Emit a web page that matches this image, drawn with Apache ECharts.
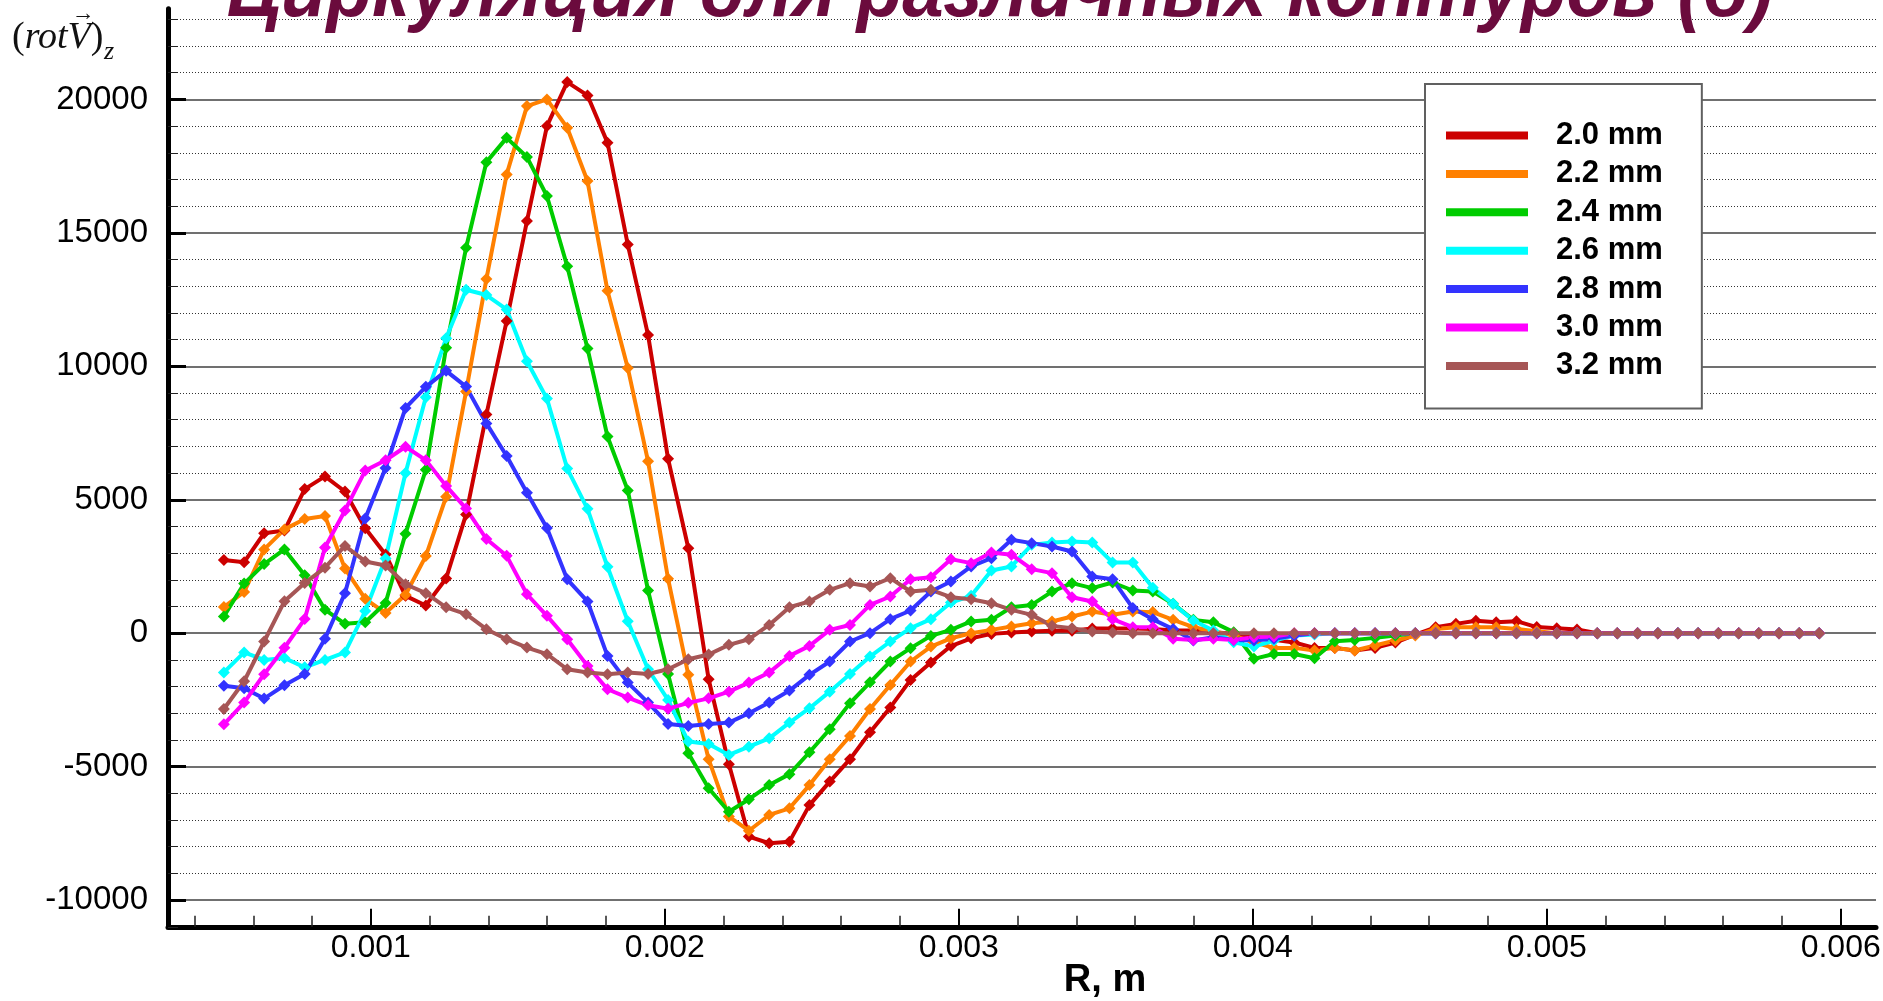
<!DOCTYPE html>
<html>
<head>
<meta charset="utf-8">
<script src="https://cdn.jsdelivr.net/npm/echarts@6/dist/echarts.min.js"></script>
<style>
  html, body { margin: 0; padding: 0; background: #ffffff; }
  #chart { width: 1883px; height: 1001px; }
</style>
</head>
<body>
<div id="chart"></div>
<script>
// Radius of the sample points along the contour, m
const R = [
  0.000500, 0.000569, 0.000637, 0.000706, 0.000775, 0.000844, 0.000912, 0.000981, 0.001050, 0.001118,
  0.001187, 0.001256, 0.001324, 0.001393, 0.001462, 0.001531, 0.001599, 0.001668, 0.001737, 0.001805,
  0.001874, 0.001943, 0.002011, 0.002080, 0.002149, 0.002218, 0.002286, 0.002355, 0.002424, 0.002492,
  0.002561, 0.002630, 0.002698, 0.002767, 0.002836, 0.002905, 0.002973, 0.003042, 0.003111, 0.003179,
  0.003248, 0.003317, 0.003385, 0.003454, 0.003523, 0.003592, 0.003660, 0.003729, 0.003798, 0.003866,
  0.003935, 0.004004, 0.004072, 0.004141, 0.004210, 0.004279, 0.004347, 0.004416, 0.004485, 0.004553,
  0.004622, 0.004691, 0.004759, 0.004828, 0.004897, 0.004966, 0.005034, 0.005103, 0.005172, 0.005240,
  0.005309, 0.005378, 0.005446, 0.005515, 0.005584, 0.005653, 0.005721, 0.005790, 0.005859, 0.005927
];

// (rot V)_z for each contour, one value per radius above
const rot20 = [
  2740, 2660, 3745, 3845, 5400, 5875, 5310, 3930, 2950, 1400,
  1040, 2050, 4450, 8190, 11700, 15440, 19000, 20650, 20150, 18380,
  14560, 11170, 6540, 3185, -1725, -4910, -7620, -7870, -7810, -6440,
  -5560, -4720, -3710, -2780, -1750, -1100, -480, -190, -25, 25,
  60, 90, 90, 180, 180, 180, 160, 100, 100, 40,
  -20, -150, -250, -350, -550, -550, -650, -550, -350, -50,
  220, 350, 470, 410, 450, 230, 190, 140, 0, 0,
  0, 0, 0, 0, 0, 0, 0, 0, 0, 0
];
const rot22 = [
  980, 1545, 3140, 3890, 4280, 4390, 2420, 1290, 755, 1440,
  2890, 5110, 9060, 13270, 17190, 19750, 20000, 18940, 16940, 12830,
  9940, 6440, 2040, -1560, -4720, -6870, -7400, -6810, -6560, -5690,
  -4720, -3850, -2840, -1940, -1060, -500, -190, 0, 125, 250,
  375, 440, 625, 810, 690, 810, 790, 500, 225, 75,
  -90, -340, -550, -550, -650, -550, -650, -460, -275, -90,
  160, 225, 225, 225, 160, 75, 0, 0, 0, 0,
  0, 0, 0, 0, 0, 0, 0, 0, 0, 0
];
const rot24 = [
  630, 1860, 2590, 3140, 2170, 880, 350, 410, 1130, 3730,
  6125, 10700, 14440, 17650, 18560, 17840, 16380, 13750, 10670, 7370,
  5350, 1600, -1530, -4500, -5810, -6690, -6220, -5690, -5280, -4460,
  -3600, -2620, -1840, -1060, -560, -100, 125, 440, 500, 975,
  1060, 1560, 1875, 1690, 1900, 1600, 1560, 1100, 500, 410,
  40, -960, -780, -780, -940, -300, -250, -175, -90, 0,
  0, 0, 0, 0, 0, 0, 0, 0, 0, 0,
  0, 0, 0, 0, 0, 0, 0, 0, 0, 0
];
const rot26 = [
  -1470, -720, -1000, -930, -1280, -1000, -720, 830, 2800, 6000,
  8840, 11050, 12870, 12670, 12130, 10190, 8790, 6170, 4660, 2490,
  450, -1350, -2500, -4060, -4150, -4560, -4250, -3940, -3350, -2810,
  -2190, -1530, -875, -310, 190, 525, 1150, 1400, 2350, 2500,
  3310, 3400, 3440, 3400, 2650, 2650, 1700, 1100, 475, 100,
  -340, -500, -275, -90, -50, 0, 0, 0, 0, 0,
  0, 0, 0, 0, 0, 0, 0, 0, 0, 0,
  0, 0, 0, 0, 0, 0, 0, 0, 0, 0
];
const rot28 = [
  -1970, -2060, -2450, -1950, -1530, -210, 1500, 4300, 6190, 8440,
  9230, 9830, 9240, 7860, 6640, 5260, 3940, 2020, 1190, -850,
  -1850, -2600, -3400, -3475, -3400, -3350, -3000, -2600, -2150, -1560,
  -1060, -310, 0, 525, 850, 1560, 1940, 2500, 2810, 3500,
  3375, 3250, 3060, 2125, 2025, 940, 520, 160, -275, -150,
  -250, -275, -210, -90, 0, 0, 0, 0, 0, 0,
  0, 0, 0, 0, 0, 0, 0, 0, 0, 0,
  0, 0, 0, 0, 0, 0, 0, 0, 0, 0
];
const rot30 = [
  -3415, -2600, -1535, -545, 530, 3210, 4600, 6095, 6480, 6985,
  6485, 5520, 4670, 3530, 2900, 1460, 650, -225, -1225, -2100,
  -2410, -2700, -2830, -2610, -2440, -2190, -1850, -1475, -850, -475,
  125, 310, 1060, 1375, 2025, 2100, 2775, 2625, 3025, 2940,
  2400, 2250, 1350, 1190, 525, 225, 220, -210, -250, -210,
  -250, -150, -125, 0, 0, 0, 0, 0, 0, 0,
  0, 0, 0, 0, 0, 0, 0, 0, 0, 0,
  0, 0, 0, 0, 0, 0, 0, 0, 0, 0
];
const rot32 = [
  -2840, -1800, -310, 1195, 1880, 2455, 3270, 2690, 2540, 1835,
  1500, 970, 712, 150, -225, -537, -787, -1350, -1475, -1537,
  -1475, -1530, -1350, -975, -800, -437, -225, 312, 975, 1187,
  1625, 1875, 1750, 2062, 1562, 1625, 1350, 1275, 1125, 875,
  687, 275, 187, 62, 25, 0, 0, 0, 0, 0,
  0, 0, 0, 0, 0, 0, 0, 0, 0, 0,
  0, 0, 0, 0, 0, 0, 0, 0, 0, 0,
  0, 0, 0, 0, 0, 0, 0, 0, 0, 0
];

const seriesNames = ['2.0 mm', '2.2 mm', '2.4 mm', '2.6 mm', '2.8 mm', '3.0 mm', '3.2 mm'];
const seriesValues = [rot20, rot22, rot24, rot26, rot28, rot30, rot32];
const seriesColors = ['#cc0000', '#ff8000', '#00cc00', '#00ffff', '#3333ff', '#ff00ff', '#a65656'];

// Axis ticks and labels
const xMajorTicks = [0.001, 0.002, 0.003, 0.004, 0.005, 0.006];
const xMinorTicks = [
  0.0004, 0.0006, 0.0008, 0.0012, 0.0014, 0.0016, 0.0018, 0.0022, 0.0024, 0.0026, 0.0028,
  0.0032, 0.0034, 0.0036, 0.0038, 0.0042, 0.0044, 0.0046, 0.0048,
  0.0052, 0.0054, 0.0056, 0.0058
];
const yMajorStep = 5000;
const yMinorStep = 1000;

const TITLE = 'Циркуляция для различных контуров (б)';
const X_NAME = 'R, m';

// Plot frame (pixels) and value ranges
const X_MIN = 0.00031, X_MAX = 0.00612;
const Y_MIN = -11000, Y_MAX = 23400;
const PLOT_LEFT = 168, PLOT_RIGHT = 1876, PLOT_BOTTOM = 926.8;
const PX_PER_UNIT = 0.02669;

// A grid covering [lo, hi] of the value range on the same vertical scale
function band(lo, hi) {
  return {
    left: PLOT_LEFT,
    width: PLOT_RIGHT - PLOT_LEFT,
    top: PLOT_BOTTOM - (hi - Y_MIN) * PX_PER_UNIT,
    height: (hi - lo) * PX_PER_UNIT,
    containLabel: false,
    outerBoundsMode: 'none'
  };
}

const SANS = '"Liberation Sans", Arial, sans-serif';
const SERIF = '"Liberation Serif", "Times New Roman", serif';

const hiddenX = (gi) => ({
  type: 'value', gridIndex: gi, min: X_MIN, max: X_MAX, show: false
});

const option = {
  animation: false,
  backgroundColor: '#ffffff',
  grid: [
    band(Y_MIN, Y_MAX),      // data, axis lines
    band(-11000, 23000),     // minor grid (every 1000)
    band(-10000, 20000)      // major grid and labels (every 5000)
  ],
  xAxis: [
    {
      type: 'value', gridIndex: 0, min: X_MIN, max: X_MAX, position: 'bottom',
      axisLine: { show: true, onZero: false, lineStyle: { color: '#000', width: 5 } },
      axisTick: { show: true, inside: true, length: 18, customValues: xMajorTicks,
                  lineStyle: { color: '#000', width: 2 } },
      axisLabel: { show: true, customValues: xMajorTicks, margin: 5,
                   formatter: (v) => v.toFixed(3),
                   fontFamily: SANS, fontSize: 32, color: '#000' },
      splitLine: { show: false }
    },
    {
      type: 'value', gridIndex: 0, min: X_MIN, max: X_MAX, position: 'bottom',
      axisLine: { show: false, onZero: false },
      axisTick: { show: true, inside: true, length: 11, customValues: xMinorTicks,
                  lineStyle: { color: '#222', width: 1.5 } },
      axisLabel: { show: false },
      splitLine: { show: false }
    },
    hiddenX(1),
    hiddenX(2)
  ],
  yAxis: [
    {
      type: 'value', gridIndex: 0, min: Y_MIN, max: Y_MAX,
      axisLine: { show: true, onZero: false, lineStyle: { color: '#000', width: 5 } },
      axisTick: { show: false },
      axisLabel: { show: false },
      splitLine: { show: false }
    },
    {
      type: 'value', gridIndex: 1, min: -11000, max: 23000, interval: yMinorStep,
      axisLine: { show: false, onZero: false },
      axisTick: { show: true, inside: true, length: 10, lineStyle: { color: '#222', width: 1 } },
      axisLabel: { show: false },
      splitLine: { show: true, lineStyle: { color: '#333', width: 1, type: [1, 2] } }
    },
    {
      type: 'value', gridIndex: 2, min: -10000, max: 20000, interval: yMajorStep,
      axisLine: { show: false, onZero: false },
      axisTick: { show: true, inside: true, length: 18, lineStyle: { color: '#000', width: 3 } },
      axisLabel: { show: true, margin: 20, formatter: (v) => String(v),
                   fontFamily: SANS, fontSize: 33, color: '#000' },
      splitLine: { show: true, lineStyle: { color: '#707070', width: 2 } }
    }
  ],
  legend: {
    show: true,
    orient: 'vertical',
    left: 1425,
    top: 84,
    padding: [36, 39, 27, 21],
    itemWidth: 82,
    itemHeight: 8,
    itemGap: 7.4,
    icon: 'rect',
    selectedMode: false,
    backgroundColor: '#ffffff',
    borderColor: '#606060',
    borderWidth: 2,
    borderRadius: 0,
    textStyle: { fontFamily: SANS, fontSize: 31, fontWeight: 'bold', color: '#000',
                 lineHeight: 30, padding: [0, 0, 0, 23] },
    data: seriesNames
  },
  series: seriesNames.map((name, k) => ({
    name: name,
    type: 'line',
    xAxisIndex: 0,
    yAxisIndex: 0,
    data: R.map((r, i) => [r, seriesValues[k][i]]),
    symbol: 'diamond',
    symbolSize: 12,
    showAllSymbol: true,
    color: seriesColors[k],
    lineStyle: { color: seriesColors[k], width: 4 },
    itemStyle: { color: seriesColors[k] },
    emphasis: { disabled: true },
    silent: true
  })),
  graphic: [
    {
      type: 'text', x: 1000, y: -6, scaleX: 0.93, z: 100,
      style: { text: TITLE, fontFamily: SANS, fontSize: 80, fontWeight: 'bold',
               fontStyle: 'italic', fill: '#6b0b3d', align: 'center', verticalAlign: 'middle' }
    },
    {
      type: 'text', x: 12, y: 38, z: 100,
      style: {
        text: '{p|(}{i|rotV}{p|)}',
        verticalAlign: 'middle',
        rich: {
          p: { fontFamily: SERIF, fontSize: 38, fill: '#111' },
          i: { fontFamily: SERIF, fontSize: 38, fontStyle: 'italic', fill: '#111' }
        }
      }
    },
    {
      type: 'text', x: 104, y: 52, z: 100,
      style: { text: 'z', fontFamily: SERIF, fontSize: 26, fontStyle: 'italic',
               fill: '#111', verticalAlign: 'middle' }
    },
    {
      type: 'text', x: 83, y: 14, z: 100,
      style: { text: '→', fontFamily: SERIF, fontSize: 23, fill: '#111',
               align: 'center', verticalAlign: 'middle' }
    },
    {
      type: 'text', x: 1105, y: 981, z: 100,
      style: { text: X_NAME, fontFamily: SANS, fontSize: 38, fontWeight: 'bold',
               fill: '#000', align: 'center', verticalAlign: 'middle' }
    }
  ]
};

const chart = echarts.init(document.getElementById('chart'), null, { renderer: 'canvas' });
chart.setOption(option);
</script>
</body>
</html>
